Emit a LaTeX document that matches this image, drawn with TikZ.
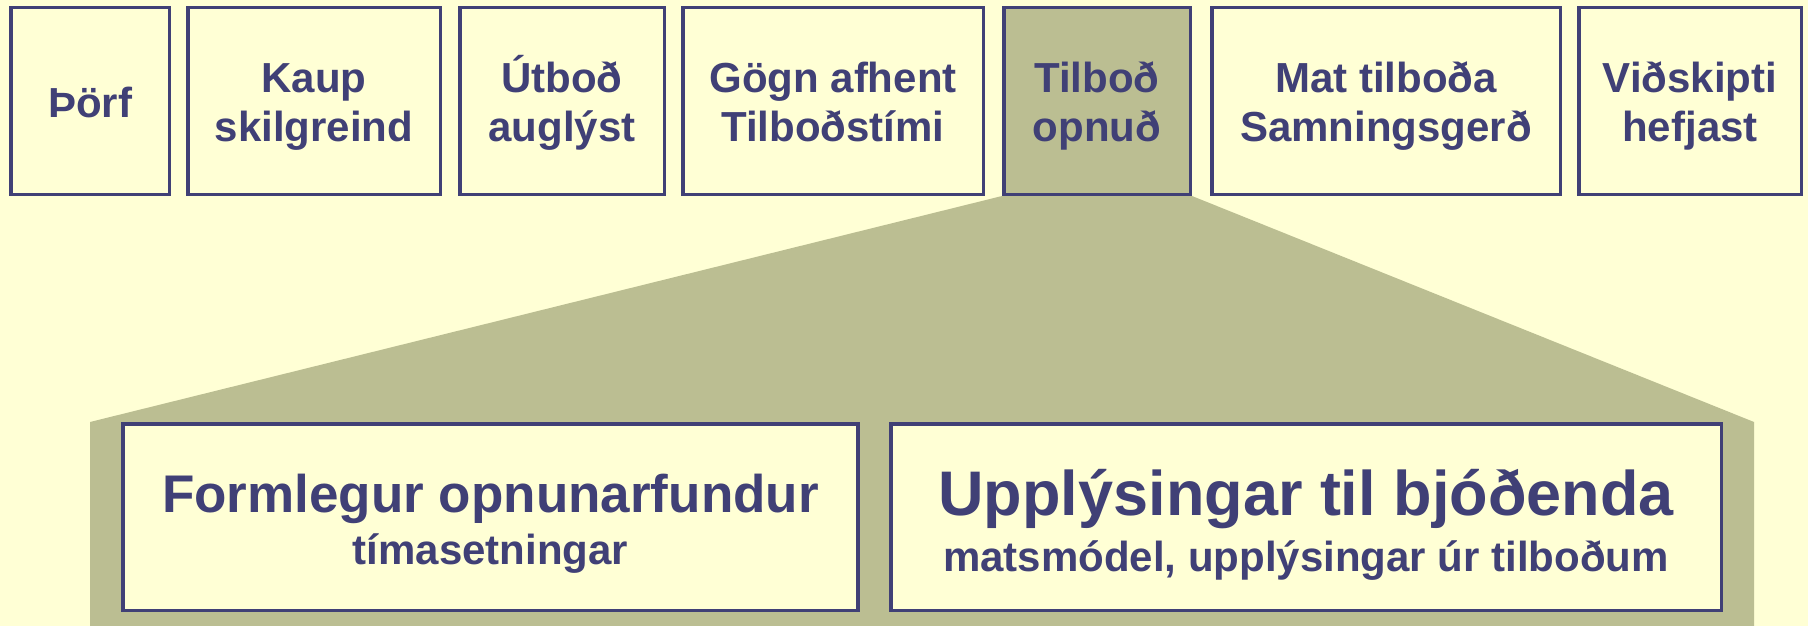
\documentclass[tikz,border=0pt]{standalone}
\usepackage{fontspec}
\setmainfont{Liberation Sans}
\usetikzlibrary{backgrounds}
\definecolor{pagecream}{RGB}{255,255,213}
\definecolor{zoomolive}{RGB}{187,190,146}
\definecolor{stagenavy}{RGB}{64,64,118}
% strut so that each line gets the same height and depth as in the slide
\newcommand\lnstrut{\rule[-0.214em]{0pt}{1.19em}}
\setlength\lineskip{0pt}
\tikzset{
  stage/.style={draw=stagenavy, line width=3.5, fill=pagecream, text=stagenavy,
    inner sep=0pt, minimum height=186.5, align=center,
    font=\bfseries\fontsize{42}{0}\selectfont},
}
\begin{document}
\begin{tikzpicture}[x=1pt,y=-1pt]
\useasboundingbox (0,0) rectangle (1808,626);
\begin{scope}[on background layer]
\fill[pagecream] (0,0) rectangle (1808,626);
\end{scope}

% the stages of the tender
\node[stage, minimum width=158.5] (thorf) at (90,101) {\lnstrut Þörf};
\node[stage, minimum width=252.5] (kaup) at (314,101) {\lnstrut Kaup\\\lnstrut skilgreind};
\node[stage, minimum width=204.5] (utbod) at (562,101) {\lnstrut Útboð\\\lnstrut auglýst};
\node[stage, minimum width=300.5] (gogn) at (833,101) {\lnstrut Gögn afhent\\\lnstrut Tilboðstími};
\node[stage, minimum width=186.5, fill=zoomolive] (opnud) at (1097,101) {\lnstrut Tilboð\\\lnstrut opnuð};
\node[stage, minimum width=348.5] (mat) at (1386,101) {\lnstrut Mat tilboða\\\lnstrut Samningsgerð};
\node[stage, minimum width=222.5] (vidskipti) at (1690,101) {\lnstrut Viðskipti\\\lnstrut hefjast};

% zoom into "Tilboð opnuð"
\coordinate (zoomleft) at (90,422);
\coordinate (zoomright) at (1754,422);
\begin{scope}[on background layer]
\fill[zoomolive] (opnud.south west) -- (opnud.south east) -- (zoomright)
  -- (1754,626) -- (90,626) -- (zoomleft) -- cycle;
\end{scope}

\node[stage, minimum width=735] (fundur) at (490.5,517)
  {{\fontsize{53}{0}\selectfont\lnstrut Formlegur opnunarfundur}\\\lnstrut tímasetningar};
\node[stage, minimum width=830.5] (upplysingar) at (1306,517)
  {{\fontsize{63}{0}\selectfont\lnstrut Upplýsingar til bjóðenda}\\[1.5pt]\lnstrut matsmódel, upplýsingar úr tilboðum};
\end{tikzpicture}
\end{document}
